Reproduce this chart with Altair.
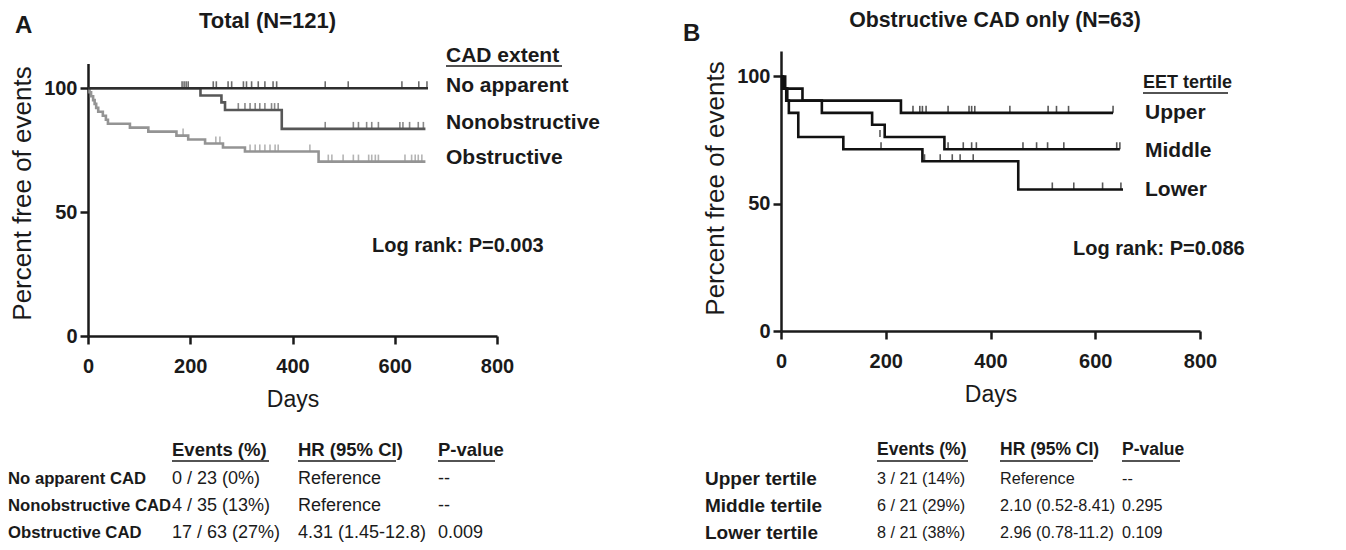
import altair as alt
import pandas as pd

FONT = "Liberation Sans"
INK = "#1a1a1a"

# ---------------- Panel A: Total (N=121) ----------------
a_title = "Total (N=121)"
a_groups = ["Obstructive", "Nonobstructive", "No apparent"]
a_colors = ["#949494", "#575757", "#2e2e2e"]

a_noapp_days = [0, 665]
a_noapp_pct = [100, 100]
a_nonobs_days = [0, 220, 261, 268, 379, 660]
a_nonobs_pct = [100, 97.1, 94.3, 91.2, 83.6, 83.6]
a_obs_days = [0, 3, 6, 10, 13, 16, 20, 29, 35, 39, 82, 118, 173, 196, 229, 264, 307, 451, 660]
a_obs_pct = [100, 98.4, 96.8, 95.2, 93.7, 92.1, 90.5, 88.9, 87.3, 85.7, 84.1, 82.5, 80.9,
             79.3, 77.7, 76.1, 74.5, 70.4, 70.4]

a_noapp_cens_days = [184, 188, 192, 196, 245, 251, 274, 281, 304, 310, 320, 333, 346, 362,
                     369, 464, 509, 614, 647, 663]
a_noapp_cens_pct = [100, 100, 100, 100, 100, 100, 100, 100, 100, 100, 100, 100, 100, 100,
                    100, 100, 100, 100, 100, 100]
a_nonobs_cens_days = [294, 307, 317, 327, 336, 346, 359, 365, 372, 464, 519, 529, 545, 555,
                      568, 610, 616, 629, 646, 656]
a_nonobs_cens_pct = [91.2, 91.2, 91.2, 91.2, 91.2, 91.2, 91.2, 91.2, 91.2, 83.6, 83.6, 83.6,
                     83.6, 83.6, 83.6, 83.6, 83.6, 83.6, 83.6, 83.6]
a_obs_cens_days = [186, 250, 258, 317, 327, 336, 346, 356, 366, 372, 434, 470, 477, 499, 519,
                   529, 549, 555, 562, 568, 620, 633, 640, 646, 653]
a_obs_cens_pct = [80.9, 77.7, 77.7, 74.5, 74.5, 74.5, 74.5, 74.5, 74.5, 74.5, 74.5, 70.4, 70.4,
                  70.4, 70.4, 70.4, 70.4, 70.4, 70.4, 70.4, 70.4, 70.4, 70.4, 70.4, 70.4]

a_legend_title = "CAD extent"
a_legend_labels = ["No apparent", "Nonobstructive", "Obstructive"]
a_logrank = "Log rank: P=0.003"

a_rows = ["No apparent CAD", "Nonobstructive CAD", "Obstructive CAD"]
a_events = ["0 / 23 (0%)", "4 / 35 (13%)", "17 / 63 (27%)"]
a_hr = ["Reference", "Reference", "4.31 (1.45-12.8)"]
a_p = ["--", "--", "0.009"]

# ---------------- Panel B: Obstructive CAD only (N=63) ----------------
b_title = "Obstructive CAD only (N=63)"
b_groups = ["Upper", "Middle", "Lower"]
b_colors = ["#111111", "#111111", "#111111"]

b_upper_days = [0, 8, 41, 229, 634]
b_upper_pct = [100, 95.2, 90.5, 85.7, 85.7]
b_middle_days = [0, 4, 10, 78, 174, 198, 312, 647]
b_middle_pct = [100, 95.2, 90.5, 85.7, 81.0, 76.2, 71.4, 71.4]
b_lower_days = [0, 2, 12, 15, 33, 119, 270, 453, 653]
b_lower_pct = [100, 95.2, 90.5, 85.7, 76.2, 71.4, 66.7, 55.6, 55.6]

b_upper_cens_days = [252, 265, 270, 277, 319, 359, 364, 370, 437, 510, 526, 549, 634]
b_upper_cens_pct = [85.7, 85.7, 85.7, 85.7, 85.7, 85.7, 85.7, 85.7, 85.7, 85.7, 85.7, 85.7, 85.7]
b_middle_cens_days = [189, 319, 348, 364, 373, 462, 488, 509, 540, 641, 647]
b_middle_cens_pct = [76.2, 71.4, 71.4, 71.4, 71.4, 71.4, 71.4, 71.4, 71.4, 71.4, 71.4]
b_lower_cens_days = [191, 274, 304, 327, 342, 367, 518, 559, 614, 649]
b_lower_cens_pct = [71.4, 66.7, 66.7, 66.7, 66.7, 66.7, 55.6, 55.6, 55.6, 55.6]

b_legend_title = "EET tertile"
b_legend_labels = ["Upper", "Middle", "Lower"]
b_logrank = "Log rank: P=0.086"

b_rows = ["Upper tertile", "Middle tertile", "Lower tertile"]
b_events = ["3 / 21 (14%)", "6 / 21 (29%)", "8 / 21 (38%)"]
b_hr = ["Reference", "2.10 (0.52-8.41)", "2.96 (0.78-11.2)"]
b_p = ["--", "0.295", "0.109"]

table_headers = ["Events (%)", "HR (95% CI)", "P-value"]
x_ticks = [0, 200, 400, 600, 800]
y_ticks = [0, 50, 100]


def long_df(groups, days_list, pct_list):
    rows = []
    for g, ds, ps in zip(groups, days_list, pct_list):
        for d, p in zip(ds, ps):
            rows.append({"group": g, "day": d, "pct": p})
    return pd.DataFrame(rows)


def label(s, x, y, size, weight="bold", align="left"):
    return alt.Chart(pd.DataFrame({"t": [s]})).mark_text(
        font=FONT, fontSize=size, fontWeight=weight, align=align,
        baseline="middle", color=INK
    ).encode(x=alt.value(x), y=alt.value(y), text="t:N")


def underline(x1, x2, y):
    return alt.Chart(pd.DataFrame({"t": [0]})).mark_rule(
        color=INK, strokeWidth=1.6
    ).encode(x=alt.value(x1), x2=alt.value(x2), y=alt.value(y))


def km_panel(curves, cens, groups, colors, yrange, title_y):
    x = alt.X("day:Q", scale=alt.Scale(domain=[0, 800], nice=False),
              axis=alt.Axis(values=x_ticks, title="Days", format="d"))
    y = alt.Y("pct:Q", scale=alt.Scale(domain=[0, 110], range=yrange, nice=False),
              axis=alt.Axis(values=y_ticks, title="Percent free of events", format="d",
                            titleY=title_y))
    color = alt.Color("group:N", scale=alt.Scale(domain=groups, range=colors), legend=None)
    lines = alt.Chart(curves).mark_line(
        interpolate="step-after", strokeWidth=2.6
    ).encode(x=x, y=y, color=color, detail="group:N")
    ticks = alt.Chart(cens).mark_tick(
        orient="vertical", size=7, thickness=1.6, yOffset=-3.5
    ).encode(x=x, y=y, color=color)
    return [lines, ticks]


# ---- Panel A layers ----
a_curves = long_df(a_groups, [a_obs_days, a_nonobs_days, a_noapp_days],
                   [a_obs_pct, a_nonobs_pct, a_noapp_pct])
a_cens = long_df(a_groups, [a_obs_cens_days, a_nonobs_cens_days, a_noapp_cens_days],
                 [a_obs_cens_pct, a_nonobs_cens_pct, a_noapp_cens_pct])
a_layers = km_panel(a_curves, a_cens, a_groups, a_colors, [285, 12.5], 142)
a_layers += [
    label(a_title, 179.5, -30, 22, align="center"),
    label("A", -73, -25, 24),
    label(a_legend_title, 358, 4.5, 21), underline(358, 474, 15),
    label(a_legend_labels[0], 358, 35, 21),
    label(a_legend_labels[1], 358, 72, 21),
    label(a_legend_labels[2], 358, 107, 21),
    label(a_logrank, 284, 195, 20),
]
a_cols = [84, 210, 350]
a_uw = [97, 98, 57]
for i, h in enumerate(table_headers):
    a_layers += [label(h, a_cols[i], 399, 18.5), underline(a_cols[i], a_cols[i] + a_uw[i], 410)]
for r, yy in enumerate([427.5, 455, 481.5]):
    a_layers += [
        label(a_rows[r], -80, yy, 16.7),
        label(a_events[r], a_cols[0], yy, 18, "normal"),
        label(a_hr[r], a_cols[1], yy, 18, "normal"),
        label(a_p[r], a_cols[2], yy, 18, "normal"),
    ]
panelA = alt.layer(*a_layers).properties(width=409, height=285)

# ---- Panel B layers ----
b_curves = long_df(b_groups, [b_upper_days, b_middle_days, b_lower_days],
                   [b_upper_pct, b_middle_pct, b_lower_pct])
b_cens = long_df(b_groups, [b_upper_cens_days, b_middle_cens_days, b_lower_cens_days],
                 [b_upper_cens_pct, b_middle_cens_pct, b_lower_cens_pct])
b_layers = km_panel(b_curves, b_cens, b_groups, b_colors, [280, 0], 137)
b_layers += [
    label(b_title, 214, -30, 21.3, align="center"),
    label("B", -98, -17, 24),
    label(b_legend_title, 362, 31.7, 18), underline(362, 447, 42),
    label(b_legend_labels[0], 364, 62.3, 21),
    label(b_legend_labels[1], 364, 100, 21),
    label(b_legend_labels[2], 364, 139.3, 21),
    label(b_logrank, 292, 198, 20),
]
b_cols = [96, 219, 341]
b_uw = [91, 93, 58]
for i, h in enumerate(table_headers):
    b_layers += [label(h, b_cols[i], 399, 17.5), underline(b_cols[i], b_cols[i] + b_uw[i], 410)]
for r, yy in enumerate([427.5, 455, 481.5]):
    b_layers += [
        label(b_rows[r], -76, yy, 19),
        label(b_events[r], b_cols[0], yy, 16.2, "normal"),
        label(b_hr[r], b_cols[1], yy, 16.2, "normal"),
        label(b_p[r], b_cols[2], yy, 16.2, "normal"),
    ]
panelB = alt.layer(*b_layers).properties(width=419, height=280)

chart = alt.hconcat(panelA, panelB, spacing=284, bounds="flush").resolve_scale(
    color="independent"
).properties(
    padding={"left": 0, "top": 2, "right": 0, "bottom": 0}
).configure_view(stroke=None).configure_axis(
    domainColor=INK, domainWidth=2.5, tickColor=INK, tickWidth=2.5, tickSize=8,
    labelFont=FONT, labelFontSize=20, labelFontWeight="bold", labelColor=INK,
    labelFlush=False, labelOverlap=False,
    titleFont=FONT, titleFontWeight="normal", titleColor=INK, grid=False
).configure_axisX(
    labelPadding=12, titleFontSize=23, titlePadding=12
).configure_axisY(
    labelPadding=3, titleFontSize=26, titlePadding=8
)

chart.save("out.html", embed_options={"renderer": "svg", "actions": False})
